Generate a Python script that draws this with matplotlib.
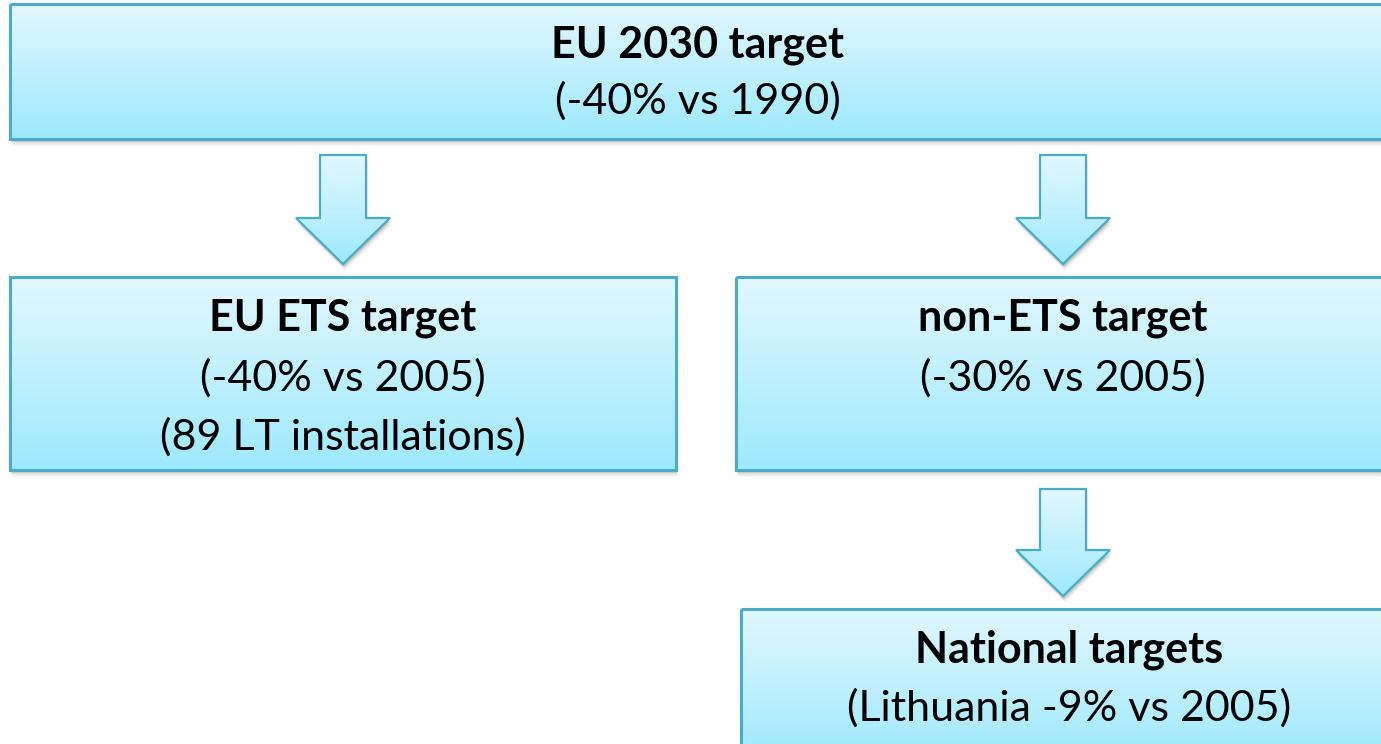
import matplotlib
matplotlib.use("Agg")
import matplotlib.pyplot as plt
import numpy as np
from matplotlib.patches import Rectangle, Polygon

# ---- content ----
titles = ["EU 2030 target", "EU ETS target", "non-ETS target", "National targets"]
subtitles = [
    ["(-40% vs 1990)"],
    ["(-40% vs 2005)", "(89 LT installations)"],
    ["(-30% vs 2005)"],
    ["(Lithuania -9% vs 2005)"],
]

# ---- layout (pixel coords) ----
W, H = 1381, 744
boxes = [  # x0, y0, x1, y1
    (10, 4, 1395, 139),
    (10, 277, 676, 470),
    (736, 277, 1395, 470),
    (741, 609, 1395, 760),
]
text_y = [
    [45, 101],
    [318, 378, 437],
    [318, 378],
    [650, 708],
]
text_cx = [698, 343, 1063, 1069]
arrows = [  # center x, top y, head y, tip y
    (343, 155, 218, 264),
    (1063, 155, 218, 264),
    (1063, 489, 550, 596),
]

edge = "#4aadc8"
top_c = np.array([0xe2, 0xf8, 0xff]) / 255
bot_c = np.array([0x9e, 0xe9, 0xfd]) / 255

fig = plt.figure(figsize=(W / 100, H / 100), dpi=100)
ax = fig.add_axes([0, 0, 1, 1])
ax.set_xlim(0, W)
ax.set_ylim(H, 0)
ax.axis("off")


def gradient_fill(patch, y0, y1, x0, x1, z):
    n = 256
    t = np.linspace(0, 1, n)[:, None]
    img = top_c[None, None, :] * (1 - t[:, :, None]) + bot_c[None, None, :] * t[:, :, None]
    img = np.repeat(img, 2, axis=1)
    im = ax.imshow(img, extent=(x0, x1, y1, y0), aspect="auto", zorder=z, interpolation="bilinear")
    im.set_clip_path(patch)


def shadow(xy_list, z):
    for i, a in enumerate([0.10, 0.08, 0.06, 0.04, 0.03]):
        off = 2 + i * 1.2
        pts = [(x + off * 0.3, y + off) for x, y in xy_list]
        ax.add_patch(Polygon(pts, closed=True, facecolor="black", edgecolor="none",
                             alpha=a, zorder=z))


for (x0, y0, x1, y1) in boxes:
    pts = [(x0, y0), (x1, y0), (x1, y1), (x0, y1)]
    shadow(pts, 1)
    r = Rectangle((x0, y0), x1 - x0, y1 - y0, facecolor="none", edgecolor="none", zorder=2)
    ax.add_patch(r)
    gradient_fill(r, y0, y1, x0, x1, 2)
    ax.add_patch(Rectangle((x0, y0), x1 - x0, y1 - y0, facecolor="none",
                           edgecolor=edge, linewidth=2.2, zorder=3))

for (cx, ty, hy, tip) in arrows:
    sw, hw = 23, 47
    pts = [(cx - sw, ty), (cx + sw, ty), (cx + sw, hy), (cx + hw, hy), (cx, tip),
           (cx - hw, hy), (cx - sw, hy)]
    shadow(pts, 1)
    p = Polygon(pts, closed=True, facecolor="none", edgecolor="none", zorder=2)
    ax.add_patch(p)
    gradient_fill(p, ty, tip, cx - hw, cx + hw, 2)
    ax.add_patch(Polygon(pts, closed=True, facecolor="none", edgecolor=edge,
                         linewidth=1.6, zorder=3, joinstyle="miter"))

font = ["Lato", "DejaVu Sans"]
for i, title in enumerate(titles):
    ys = text_y[i]
    ax.text(text_cx[i], ys[0], title, ha="center", va="center", fontsize=31,
            fontweight="bold", family=font, color="black", zorder=5)
    for s, y in zip(subtitles[i], ys[1:]):
        ax.text(text_cx[i], y, s, ha="center", va="center", fontsize=31,
                family=font, color="black", zorder=5)

fig.savefig("out.png", dpi=100)
